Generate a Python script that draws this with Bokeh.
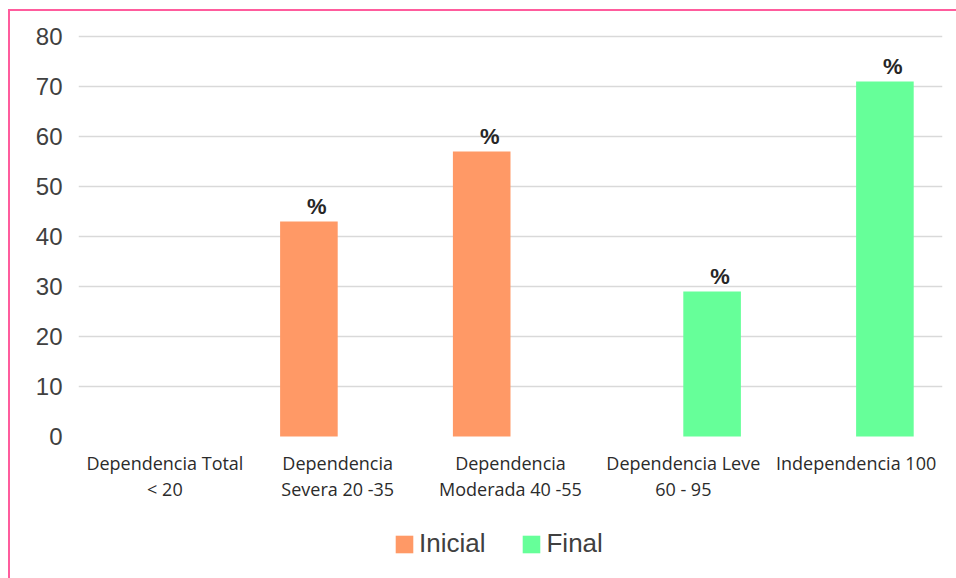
from bokeh.plotting import figure
from bokeh.models import (ColumnDataSource, FactorRange, Range1d, FixedTicker,
                          Legend, LegendItem)
from bokeh.transform import dodge
from bokeh.embed import file_html
from bokeh.resources import INLINE
from bokeh.core.properties import value

# Barthel index groups, before and after
categories = [
    "Dependencia Total\n< 20",
    "Dependencia\nSevera 20 -35",
    "Dependencia\nModerada 40 -55",
    "Dependencia Leve\n60 - 95",
    "Independencia 100",
]
inicial = [0, 43, 57, 0, 0]
final = [0, 0, 0, 29, 71]
series = ["Inicial", "Final"]
y_ticks = [0, 10, 20, 30, 40, 50, 60, 70, 80]

COL_INICIAL = "#ff9966"
COL_FINAL = "#66ff99"
TEXT = "#404040"
PINK = "#ff5c9d"

W, H = 956, 578
TOP, LEFT, RIGHT = 34, 78, 14
Y_MAX = 80.4
PX_PER_UNIT = 5.0                       # 10 units = 50 px
UNIT = 1 / PX_PER_UNIT                  # data units per pixel
Y_MIN = Y_MAX - (H - TOP) * UNIT        # frame runs to the bottom edge

src = ColumnDataSource(dict(cat=categories, inicial=inicial, final=final))

p = figure(
    width=W, height=H,
    x_range=FactorRange(*categories, range_padding=0),
    y_range=Range1d(Y_MIN, Y_MAX),
    output_backend="svg", toolbar_location=None,
    min_border_left=LEFT, min_border_right=RIGHT,
    min_border_top=TOP, min_border_bottom=0,
)
p.background_fill_color = "white"
p.border_fill_color = None
p.outline_line_color = None
# page frame: pink rule along the top and left edges
p.styles = {
    "background": (
        f"linear-gradient({PINK},{PINK}) 8px 9px / 948px 2px no-repeat, "
        f"linear-gradient({PINK},{PINK}) 8px 9px / 2px 569px no-repeat, white"
    )
}

bw = 1 / 3
r_ini = p.vbar(x=dodge("cat", -bw / 2, range=p.x_range), top="inicial", width=bw,
               source=src, fill_color=COL_INICIAL, line_color=None)
r_fin = p.vbar(x=dodge("cat", bw / 2, range=p.x_range), top="final", width=bw,
               source=src, fill_color=COL_FINAL, line_color=None)

# "%" labels over each non-empty bar
for vals, off in ((inicial, -bw / 2), (final, bw / 2)):
    keep = [i for i, v in enumerate(vals) if v > 0]
    s = ColumnDataSource(dict(x=[categories[i] for i in keep],
                              y=[vals[i] + 15 * UNIT for i in keep],
                              t=["%"] * len(keep)))
    p.text(x=dodge("x", off, range=p.x_range), y="y", text="t", source=s,
           text_align="center", text_baseline="middle", x_offset=8,
           text_font=value("Liberation Sans"), text_font_size="22px",
           text_font_style="bold", text_color="#262626")

# category labels, two lines under each group
lines = [c.split("\n") + [""] for c in categories]
cat_src = ColumnDataSource(dict(
    x=categories,
    l1=[l[0] for l in lines], y1=[-26 * UNIT] * len(categories),
    l2=[l[1] for l in lines], y2=[-52 * UNIT] * len(categories),
))
for t, y in (("l1", "y1"), ("l2", "y2")):
    p.text(x="x", y=y, text=t, source=cat_src,
           text_align="center", text_baseline="middle",
           text_font=value("Open Sans"), text_font_size="18px",
           text_color="#2b2b2b")

# axes
p.xaxis.visible = False
p.yaxis.ticker = FixedTicker(ticks=y_ticks)
p.yaxis.axis_line_color = None
p.yaxis.major_tick_line_color = None
p.yaxis.minor_tick_line_color = None
p.yaxis.major_label_standoff = 10
p.yaxis.major_label_text_font = "Liberation Sans"
p.yaxis.major_label_text_font_size = "24px"
p.yaxis.major_label_text_color = TEXT

p.xgrid.grid_line_color = None
p.ygrid.ticker = FixedTicker(ticks=y_ticks[1:])
p.ygrid.grid_line_color = "#d9d9d9"
p.ygrid.grid_line_width = 1.5

legend = Legend(
    items=[LegendItem(label=series[0], renderers=[r_ini]),
           LegendItem(label=series[1], renderers=[r_fin])],
    orientation="horizontal", location=(315, 19),
    glyph_width=22, glyph_height=22, label_standoff=4, spacing=35,
    padding=0, margin=0, border_line_color=None, background_fill_alpha=0,
    label_text_font="Liberation Sans", label_text_font_size="26px",
    label_text_color=TEXT, label_height=22,
)
p.add_layout(legend, "center")

open("out.html", "w").write(file_html(p, INLINE))
